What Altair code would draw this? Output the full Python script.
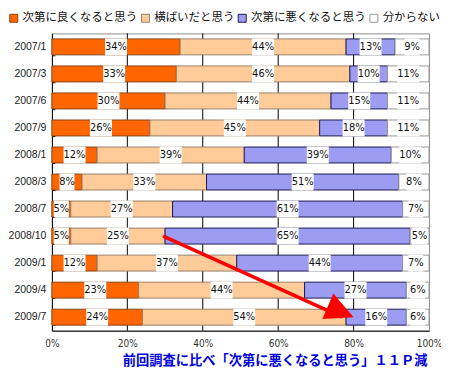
import altair as alt
import pandas as pd

periods = ["2007/1", "2007/3", "2007/6", "2007/9", "2008/1", "2008/3",
           "2008/7", "2008/10", "2009/1", "2009/4", "2009/7"]
better = [34, 33, 30, 26, 12, 8, 5, 5, 12, 23, 24]
flat = [44, 46, 44, 45, 39, 33, 27, 25, 37, 44, 54]
worse = [13, 10, 15, 18, 39, 51, 61, 65, 44, 27, 16]
unknown = [9, 11, 11, 11, 10, 8, 7, 5, 7, 6, 6]
series = ["次第に良くなると思う", "横ばいだと思う", "次第に悪くなると思う", "分からない"]
fills = ["#ff6600", "#ffcc99", "#9c9cf2", "#ffffff"]
strokes = ["#8a4418", "#9a8068", "#1a1a50", "#999999"]
grid_values = [20, 40, 60, 80]
tick_values = [0, 20, 40, 60, 80, 100]
note = "前回調査に比べ「次第に悪くなると思う」１１Ｐ減"

# arrow annotation (data coordinates)
arrow_from = (29.5, "2008/10")
arrow_to = (80, "2009/7")

rows = []
for i, p in enumerate(periods):
    vals = [better[i], flat[i], worse[i], unknown[i]]
    s = 0
    for j, v in enumerate(vals):
        rows.append({"period": p, "series": series[j], "idx": j,
                     "start": s, "end": s + v, "mid": s + v / 2,
                     "label": f"{v}%", "wide": v >= 10})
        s += v
df = pd.DataFrame(rows)

W, H = 378, 298
yscale = alt.Scale(domain=periods, paddingInner=0.41, paddingOuter=0.205)
xscale = alt.Scale(domain=[0, 100], nice=False)
cond = "DejaVu Sans Condensed"
jp = "Noto Sans CJK JP"

xaxis = alt.Axis(values=tick_values, format="d",
                 labelExpr="datum.label + '%'", ticks=False, grid=False,
                 labelFlush=False,
                 domainColor="black", labelFont=cond, labelFontSize=10,
                 labelColor="#333", labelPadding=8, title=None)


def X(field):
    return alt.X(field, scale=xscale, axis=xaxis, title=None)


base = alt.Chart(df)

grid = alt.Chart(pd.DataFrame({"g": grid_values})).mark_rule(
    color="black", strokeWidth=1).encode(x=X("g:Q"))

bars = base.mark_bar(strokeWidth=1).encode(
    x=X("start:Q"),
    x2="end:Q",
    y=alt.Y("period:N", scale=yscale,
            axis=alt.Axis(title=None, ticks=False, domainColor="black",
                          labelFont="Liberation Sans", labelFontSize=10.5,
                          labelColor="#222", labelPadding=6, orient="left")),
    fill=alt.Fill("series:N", scale=alt.Scale(domain=series, range=fills),
                  legend=alt.Legend(title=None, orient="none", legendX=-44, legendY=-21,
                                    direction="horizontal", symbolType="square",
                                    symbolSize=64, symbolStrokeColor="#333",
                                    symbolStrokeWidth=1, labelFont=jp,
                                    labelFontSize=11.5, labelColor="#111",
                                    columnPadding=1, labelOffset=3)),
    stroke=alt.Stroke("series:N", scale=alt.Scale(domain=series, range=strokes), legend=None),
)

boxes_wide = base.transform_filter("datum.wide").mark_tick(
    thickness=22, size=17, color="white", opacity=1).encode(
    x=X("mid:Q"),
    y=alt.Y("period:N", scale=yscale,
            axis=alt.Axis(orient="right", offset=-W, labels=False, domain=False,
                          ticks=True, tickBand="extent", tickSize=3, tickColor="black",
                          grid=False, title=None)),
)
boxes_narrow = base.transform_filter("!datum.wide").mark_tick(
    thickness=15, size=17, color="white", opacity=1).encode(
    x=X("mid:Q"),
    y=alt.Y("period:N", scale=yscale, axis=None),
)

labels = base.mark_text(font=cond, fontSize=11, color="#111").encode(
    x=X("mid:Q"),
    y=alt.Y("period:N", scale=yscale, axis=None),
    text="label:N",
)

arrow_df = pd.DataFrame({"x": [arrow_from[0]], "x2": [arrow_to[0] - 3],
                         "y": [arrow_from[1]], "y2": [arrow_to[1]]})
head_df = pd.DataFrame({"x": [arrow_to[0]], "y": [arrow_to[1]]})

line = alt.Chart(arrow_df).mark_rule(color="#ff0000", strokeWidth=3.5).encode(
    x=X("x:Q"), x2="x2:Q",
    y=alt.Y("y:N", scale=yscale, axis=None), y2="y2:N",
)
head = alt.Chart(head_df).mark_point(
    shape="M0,0 L-2,-1 L-2,1 Z", size=784, filled=True, opacity=1,
    color="#ff0000", angle=23).encode(
    x=X("x:Q"),
    y=alt.Y("y:N", scale=yscale, axis=None),
)

chart = alt.layer(grid, bars, boxes_wide, boxes_narrow, labels, line, head).resolve_axis(
    y="independent"
).properties(
    width=W, height=H,
    autosize=alt.AutoSizeParams(type="none"),
    padding={"left": 44, "top": 25, "right": 12, "bottom": 42},
    title=alt.TitleParams(note, orient="bottom", anchor="start", dx=115, font=jp,
                          fontSize=13.3, fontWeight="bold", color="#0000dd", offset=5),
).configure_view(stroke="#909090")

chart.save("out.html", embed_options={"renderer": "svg", "actions": False})
